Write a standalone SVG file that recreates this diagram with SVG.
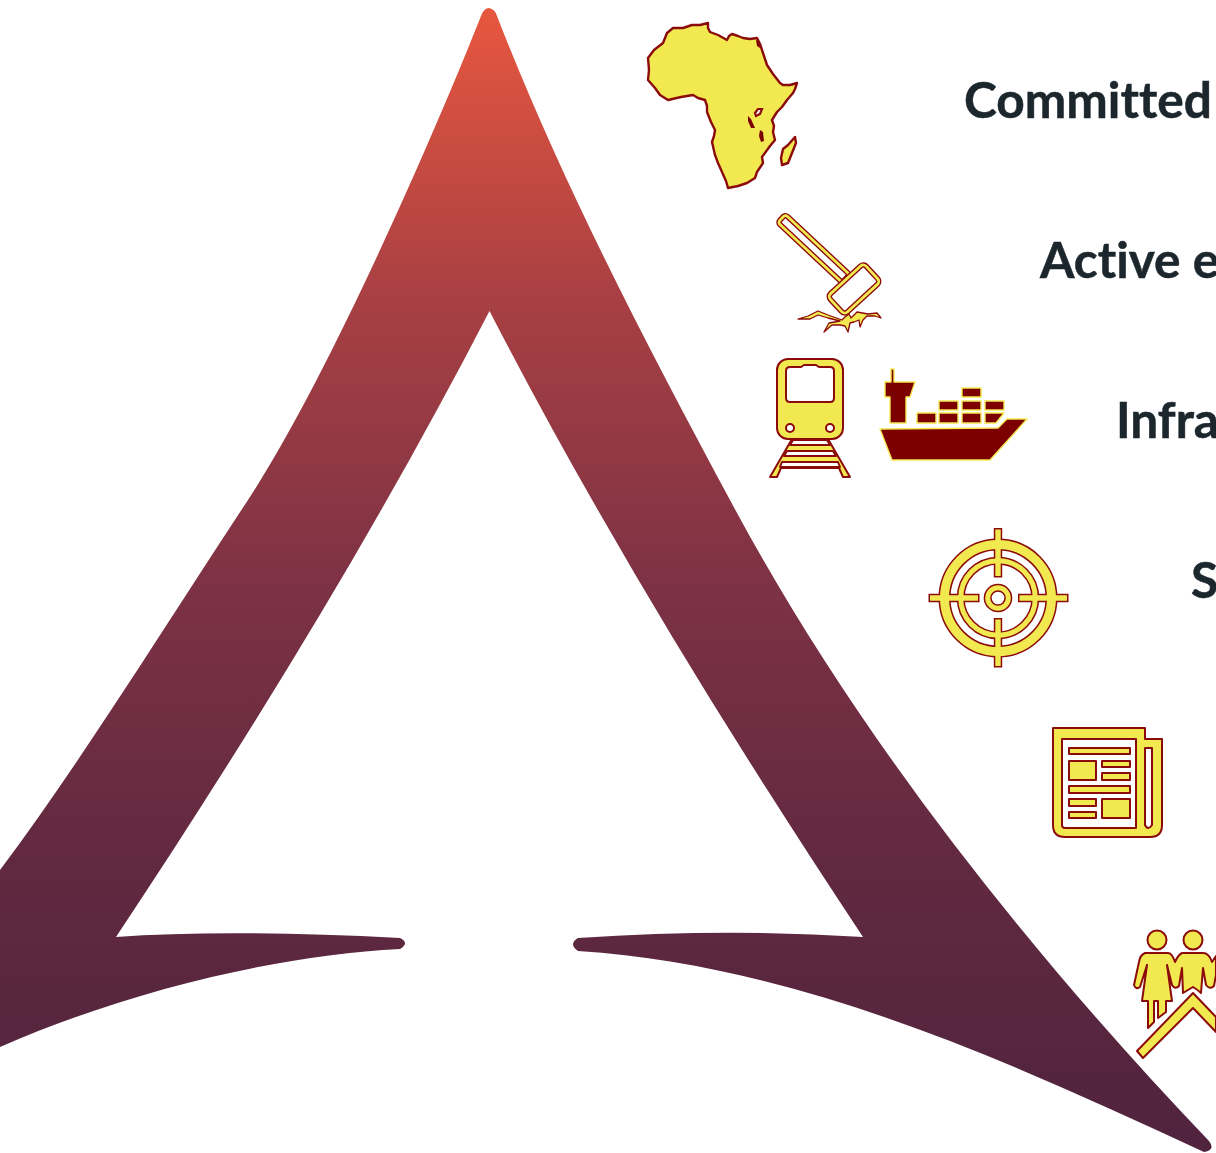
<svg xmlns="http://www.w3.org/2000/svg" width="1216" height="1153" viewBox="0 0 1216 1153">
<style>
.lbl{font-family:"Lato","Liberation Sans",sans-serif;font-weight:700;font-size:49.600px;fill:#1b262d;stroke:#1b262d;stroke-width:.5;font-variant-ligatures:none}
.y{fill:#f2e950;stroke:#8b0a0a;stroke-width:2;stroke-linejoin:round}
.d{fill:#7d0000;stroke:#f2e950;stroke-width:1.4;stroke-linejoin:round}
.o{fill:none;stroke:#8b0a0a}
.i{fill:none;stroke:#f2e950}
.w{fill:#fff;stroke:#8b0a0a;stroke-width:2;stroke-linejoin:round}
.h{fill:#fff;stroke:#8b0a0a;stroke-width:5.5}
.hi{fill:none;stroke:#f2e950;stroke-width:2.8}
</style>
<defs>
<linearGradient id="g" gradientUnits="userSpaceOnUse" x1="0" y1="8" x2="0" y2="1150">
<stop offset="0" stop-color="#e8573f"/><stop offset=".25" stop-color="#a94043"/><stop offset=".5" stop-color="#7e3244"/><stop offset=".75" stop-color="#612940"/><stop offset="1" stop-color="#50233e"/>
</linearGradient>
</defs>
<rect width="1216" height="1153" fill="#fff"/>
<g id="peak">
<path fill="url(#g)" d="M489 8Q495 9 497 16C562 183 645 342 730 500C853 730 1023 946 1209 1141Q1216 1150 1204 1152C1006 1060 798 965 578 951Q568 944 578 938Q727 928 863 937C729 735 601 527 489.5 311C378 527 250 735 116 937Q228 929 400 938Q410 943 400 949C280 955 130 990 0 1047L0 870C84 758 171 616 248 500C330 375 438 125 481 16Q484 8 489 8Z"/>
</g>
<g id="africa">
<path class="y" style="stroke-width:2.4" d="M673 28L677 28 683 28 692 25 700 25 708 23 708 28 710 32 718 35 727 40 729 36 732 34 738 36 743 38 750 39 757 38 760 44 761 47 764 56 767 65 773 74 780 83 783 85 790 85 797 83 795 89 793 93 787 100 782 107 777 112 772 120 774 126 773 132 775 140 770 146 762 157 763 163 757 172 755 178 747 183 738 186 728 188 726 181 722 172 718 163 715 155 712 142 714 136 715 130 711 122 707 112 707 106 705 100 698 98 693 95 681 97 668 100 660 95 655 88 648 80 649 70 648 58 654 50 663 43 667 33Z"/>
<path class="y" style="stroke-width:2.4" d="M795 137L796 143 792 153 788 163 782 165 781 158 783 149 788 145Z"/>
<path fill="#fff" stroke="#8b0a0a" stroke-width="2.2" d="M755 113L758 109 762 109 760 114 756 116Z"/>
<path fill="#7d0000" d="M748 116L751 119 755 128 751 128 748 121ZM760 130L763 132 764 141 761 142 759 136Z"/>
<path fill="#7d0000" d="M756 40L759 41 760 48 757 46Z"/>
</g>
<g id="hammer">
<rect class="h" x="-40.300" y="-5.500" width="88" height="11" rx="3" transform="translate(811 246) rotate(43)"/>
<rect class="hi" x="-40.300" y="-5.500" width="88" height="11" rx="3" transform="translate(811 246) rotate(43)"/>
<rect class="h" x="-24.400" y="-12.400" width="48.800" height="24.800" rx="4" transform="translate(854 289) rotate(-42.5)"/>
<rect class="hi" x="-24.400" y="-12.400" width="48.800" height="24.800" rx="4" transform="translate(854 289) rotate(-42.5)"/>
<path class="y" style="stroke-width:1.3" d="M798 319L808 316 818 311 828 315 842 320 845 317 849 314 851 318 857 312 868 314 877 313 881 318 875 316 867 316 863 320 860 327 859 320 854 322 850 323 848 332 845 326 840 325 832 325 824 332 829 323 840 321 828 318 818 315 810 319Z"/>
</g>
<g id="train">
<path class="y" d="M792 439L770 477 777 477 781 468 839 468 843 477 850 477 828 439Z"/>
<path class="w" d="M793 440L790 445 830 445 827 440ZM787 451L784 456 836 456 833 451ZM782 462L780 467 840 467 838 462Z"/>
<rect class="y" x="777" y="359" width="66" height="80" rx="11"/>
<path class="w" d="M786 371Q786 367 790 367L801 367 804 365 816 365 819 367 830 367Q834 367 834 371L834 398Q834 402 830 402L790 402Q786 402 786 398Z"/>
<circle class="w" cx="790" cy="428" r="4"/><circle class="w" cx="830" cy="428" r="4"/>
</g>
<g id="ship">
<path class="d" d="M891 382L891 369 894 369 894 382 915 382 910 397 906 397 906 423 890 423 890 397 885 397 885 382Z"/>
<rect class="d" x="962" y="388" width="19" height="9"/>
<rect class="d" x="939" y="401" width="19" height="9"/><rect class="d" x="962" y="401" width="19" height="9"/><rect class="d" x="985" y="401" width="19" height="9"/>
<rect class="d" x="917" y="413" width="19" height="10"/><rect class="d" x="939" y="413" width="19" height="10"/><rect class="d" x="962" y="413" width="19" height="10"/>
<path class="d" d="M985 413L1004 413 996 423 985 423Z"/>
<path class="d" d="M880 429L998 428 1007 419 1027 419 990 460 892 460Z"/>
</g>
<g id="target">
<g class="o">
<circle cx="998" cy="598" r="53.500" stroke-width="12"/>
<circle cx="998" cy="598" r="37.300" stroke-width="8"/>
<circle cx="998" cy="598" r="10.300" stroke-width="8"/>
<path stroke-width="8.400" d="M998 528V577.500M998 618V667.500M928.500 598H979.500M1018 598H1068.500"/>
</g>
<g class="i">
<circle cx="998" cy="598" r="53.500" stroke-width="9"/>
<circle cx="998" cy="598" r="37.300" stroke-width="5"/>
<circle cx="998" cy="598" r="10.300" stroke-width="5"/>
<path stroke-width="5.400" d="M998 529.500V576M998 619.500V666M930 598H978M1019.500 598H1067"/>
</g>
</g>
<g id="newspaper">
<path class="y" d="M1053 728L1145 728 1145 739 1162 739 1162 825Q1162 837 1150 837L1065 837Q1053 837 1053 825Z"/>
<path class="w" d="M1062 739L1136 739 1136 828 1065 828Q1062 828 1062 825Z"/>
<path class="w" d="M1145 748L1152 748 1152 825Q1148 831 1145 825Z"/>
<rect class="y" x="1069" y="748" width="61" height="6"/><rect class="y" x="1069" y="761" width="27" height="19"/><rect class="y" x="1102" y="761" width="28" height="6"/><rect class="y" x="1102" y="773" width="28" height="7"/><rect class="y" x="1069" y="786" width="61" height="7"/><rect class="y" x="1069" y="799" width="27" height="7"/><rect class="y" x="1069" y="812" width="27" height="6"/><rect class="y" x="1102" y="799" width="28" height="19"/>
</g>
<g id="people">
<circle class="y" cx="1157" cy="940" r="9.500"/><circle class="y" cx="1193" cy="940" r="9.500"/>
<path class="y" d="M1145 953Q1140 955 1139 962L1134 985Q1136 990 1140 987L1147 965 1142 1001 1148 1001 1148 1028 1154 1022 1154 1001 1158 1001 1158 1018 1166 1012 1166 1001 1172 1001 1167 965 1172 985Q1175 990 1179 986L1182 968 1183 993Q1188 990 1193 987 1198 990 1201 993L1203 968 1206 985Q1210 990 1214 986L1216 975 1216 956 1212 962Q1209 953 1203 953L1182 953Q1178 955 1175 962 1172 953 1168 953Z"/>
<path class="y" d="M1193 993L1216 1017 1216 1032 1193 1008 1143 1058 1137 1051Z"/>
</g>
<g id="labels">
<text class="lbl" x="964" y="118">Committed</text>
<text class="lbl" x="1040" y="278">Active e</text>
<text class="lbl" x="1116" y="438">Infra</text>
<text class="lbl" x="1191" y="598">S</text>
</g>
</svg>
